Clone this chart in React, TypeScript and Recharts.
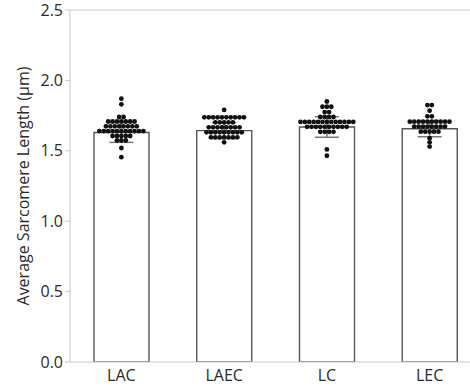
import React from 'react';
import { ComposedChart, Bar, Scatter, XAxis, YAxis, ErrorBar, ReferenceLine, Label } from 'recharts';

const groups = ['LAC', 'LAEC', 'LC', 'LEC'];
const means = [1.63, 1.643, 1.669, 1.657];
const sds = [0.07, 0.057, 0.073, 0.057];
const yTicks = [0, 0.5, 1.0, 1.5, 2.0, 2.5];

const lacPoints = [
  1.87, 1.83, 1.74, 1.74,
  1.708, 1.708, 1.708, 1.708, 1.708, 1.708, 1.708,
  1.674, 1.674, 1.674, 1.674, 1.674, 1.674, 1.674, 1.674,
  1.64, 1.64, 1.64, 1.64, 1.64, 1.64, 1.64, 1.64, 1.64, 1.64, 1.64,
  1.605, 1.605, 1.605, 1.605, 1.605,
  1.573, 1.573, 1.573,
  1.52, 1.455,
];
const laecPoints = [
  1.79,
  1.738, 1.738, 1.738, 1.738, 1.738, 1.738, 1.738, 1.738, 1.738, 1.738,
  1.702, 1.702, 1.702, 1.702, 1.702,
  1.667, 1.667, 1.667, 1.667, 1.667, 1.667, 1.667, 1.667,
  1.631, 1.631, 1.631, 1.631, 1.631, 1.631, 1.631, 1.631, 1.631,
  1.596, 1.596, 1.596, 1.596, 1.596, 1.596, 1.596,
  1.56,
];
const lcPoints = [
  1.85, 1.813, 1.813, 1.813, 1.775, 1.775,
  1.74, 1.74, 1.74, 1.74,
  1.705, 1.705, 1.705, 1.705, 1.705, 1.705, 1.705, 1.705, 1.705, 1.705, 1.705, 1.705, 1.705,
  1.67, 1.67, 1.67, 1.67, 1.67, 1.67, 1.67, 1.67, 1.67, 1.67,
  1.635, 1.635, 1.635, 1.635,
  1.51, 1.465,
];
const lecPoints = [
  1.825, 1.825, 1.785, 1.745, 1.745,
  1.707, 1.707, 1.707, 1.707, 1.707, 1.707, 1.707, 1.707, 1.707, 1.707,
  1.672, 1.672, 1.672, 1.672, 1.672, 1.672, 1.672, 1.672,
  1.636, 1.636, 1.636, 1.636, 1.636,
  1.59, 1.56, 1.53,
];
const groupPoints = [lacPoints, laecPoints, lcPoints, lecPoints];

const barData = groups.map((name, i) => ({ name, mean: means[i], sd: sds[i] }));

// beeswarm: equal values share a row and are spread sideways around the centre
const dotData = groups.flatMap((name, g) => {
  const counts = new Map<number, number>();
  groupPoints[g].forEach((v) => counts.set(v, (counts.get(v) || 0) + 1));
  const seen = new Map<number, number>();
  return groupPoints[g].map((v) => {
    const n = counts.get(v) || 1;
    const k = seen.get(v) || 0;
    seen.set(v, k + 1);
    return { name, value: v, slot: k - (n - 1) / 2 };
  });
});

const DOT_STEP = 4.4;

const Dot = (props: any) => (
  <circle cx={props.cx + props.payload.slot * DOT_STEP} cy={props.cy} r={2.4} fill="#111" />
);

const font = '"Open Sans", sans-serif';

const App: React.FC = () => {
  return (
    <div style={{ position: 'fixed', left: 0, top: 0, width: 470, height: 392, overflow: 'hidden', background: '#fff' }}>
      <ComposedChart width={490} height={392} data={barData} margin={{ top: 10, right: 9, bottom: 0, left: 0 }}>
        <XAxis
          dataKey="name"
          allowDuplicatedCategory={false}
          tickLine={false}
          stroke="#c8c8c8"
          tick={{ fill: '#2a2a2a', fontSize: 16, fontFamily: font }}
          tickMargin={2}
          height={30}
        />
        <YAxis
          type="number"
          domain={[0, 2.5]}
          ticks={yTicks}
          tickFormatter={(v: number) => v.toFixed(1)}
          width={70}
          stroke="#c8c8c8"
          tick={{ fill: '#2a2a2a', fontSize: 16, fontFamily: font }}
          tickSize={5}
          tickMargin={2}
          allowDataOverflow
        >
          <Label
            value="Average Sarcomere Length (µm)"
            angle={-90}
            position="insideLeft"
            offset={23}
            style={{ textAnchor: 'middle', fill: '#2a2a2a', fontSize: 16, fontFamily: font }}
          />
        </YAxis>
        <ReferenceLine y={2.5} stroke="#c8c8c8" />
        <Bar dataKey="mean" fill="#fff" stroke="#555" strokeWidth={1.4} barSize={55} isAnimationActive={false} />
        <Scatter data={dotData} dataKey="value" shape={Dot} isAnimationActive={false} />
        <Scatter data={barData} dataKey="mean" shape={() => <g />} isAnimationActive={false}>
          <ErrorBar dataKey="sd" direction="y" width={12} stroke="#777" strokeWidth={1.5} />
        </Scatter>
      </ComposedChart>
    </div>
  );
};

export default App;
